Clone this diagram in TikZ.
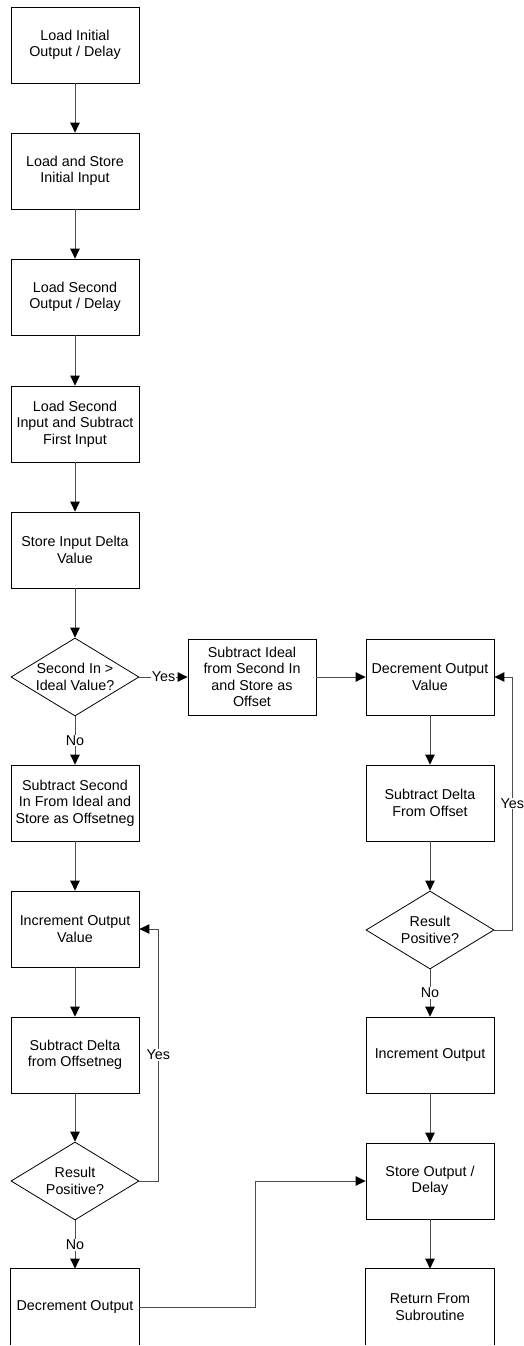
\documentclass[tikz,border=0pt]{standalone}
\usepackage{fontspec}
\setmainfont{Liberation Sans}
\usetikzlibrary{shapes.geometric,arrows.meta}
\begin{document}
\begin{tikzpicture}[x=1pt,y=-1pt,
 box/.style={draw=black, line width=0.8pt, minimum width=128pt, minimum height=76pt, inner sep=0pt, align=center, font=\fontsize{14.3}{16.5}\selectfont},
 openbox/.style={box, draw=none},
 dia/.style={diamond, draw=black, line width=0.8pt, minimum width=128pt, minimum height=78pt, inner sep=0pt},
 txt/.style={align=center, inner sep=0pt, font=\fontsize{14.3}{16.5}\selectfont},
 conn/.style={draw=black!70, line width=1pt, -{Triangle[length=10pt,width=9.5pt,color=black,fill=black]}},
 lbl/.style={fill=white, inner sep=1pt, font=\fontsize{14.3}{16.5}\selectfont}]
\useasboundingbox (0,0) rectangle (524,1346);
% left column
\node[box] (b1) at (75,45) {Load Initial\\Output / Delay};
\node[box] (b2) at (75,171) {Load and Store\\Initial Input};
\node[box] (b3) at (75,297) {Load Second\\Output / Delay};
\node[box] (b4) at (75,424) {Load Second\\Input and Subtract\\First Input};
\node[box] (b5) at (75,550) {Store Input Delta\\Value};
\node[dia] (d1) at (75,677) {};
\node[txt] (d1t) at (d1) {Second In >\\Ideal Value?};
\node[box] (b7) at (75,803) {Subtract Second\\In From Ideal and\\Store as Offsetneg};
\node[box] (b8) at (75,929) {Increment Output\\Value};
\node[box] (b9) at (75,1055) {Subtract Delta\\from Offsetneg};
\node[dia] (d2) at (75,1181) {};
\node[txt] (d2t) at (d2) {Result\\Positive?};
\node[openbox] (b11) at (75,1307) {Decrement Output};
\draw[line width=0.8pt] (b11.south west) -- (b11.north west) -- (b11.north east) -- (b11.south east);
% middle
\node[box] (m1) at (252,677) {Subtract Ideal\\from Second In\\and Store as\\Offset};
% right column
\node[box] (r6) at (430,677) {Decrement Output\\Value};
\node[box] (r7) at (430,803) {Subtract Delta\\From Offset};
\node[dia] (d3) at (430,930) {};
\node[txt] (d3t) at (d3) {Result\\Positive?};
\node[box] (r9) at (430,1055) {Increment Output};
\node[box] (r10) at (430,1181) {Store Output /\\Delay};
\node[openbox] (r11) at (430,1307) {Return From\\Subroutine};
\draw[line width=0.8pt] (r11.south west) -- (r11.north west) -- (r11.north east) -- (r11.south east);
% connectors left
\draw[conn] (b1.south) -- (b2.north);
\draw[conn] (b2.south) -- (b3.north);
\draw[conn] (b3.south) -- (b4.north);
\draw[conn] (b4.south) -- (b5.north);
\draw[conn] (b5.south) -- (d1.north);
\draw[conn] (d1.south) -- node[lbl] {No} (b7.north);
\draw[conn] (b7.south) -- (b8.north);
\draw[conn] (b8.south) -- (b9.north);
\draw[conn] (b9.south) -- (d2.north);
\draw[conn] (d2.south) -- node[lbl] {No} (b11.north);
\draw[conn] (d2.east) -- ++(19,0) |- node[lbl, pos=0.25] {Yes} (b8.east);
\draw[conn] (d1.east) -- node[lbl] {Yes} (m1.west);
\draw[conn] (m1.east) -- (r6.west);
% connectors right
\draw[conn] (r6.south) -- (r7.north);
\draw[conn] (r7.south) -- (d3.north);
\draw[conn] (d3.south) -- node[lbl] {No} (r9.north);
\draw[conn] (d3.east) -- ++(18,0) |- node[lbl, pos=0.25] {Yes} (r6.east);
\draw[conn] (r9.south) -- (r10.north);
\draw[conn] (r10.south) -- (r11.north);
\draw[conn] (b11.east) -- ++(116,0) |- (r10.west);
\end{tikzpicture}
\end{document}
